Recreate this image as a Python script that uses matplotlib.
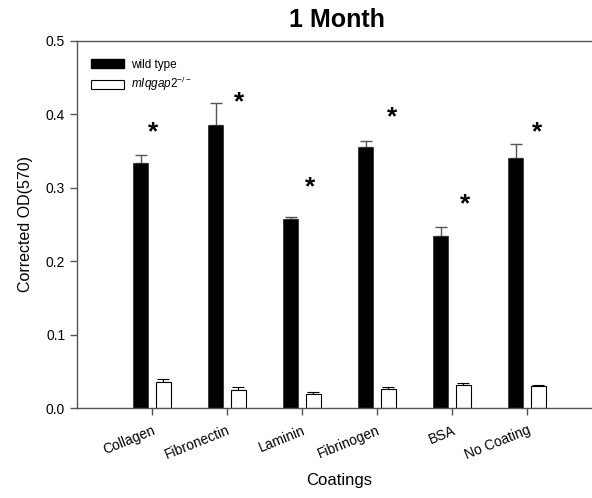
import matplotlib
matplotlib.use("Agg")
import matplotlib.pyplot as plt
from matplotlib.patches import Patch
import numpy as np

plt.rcParams['font.family'] = ['Liberation Sans', 'DejaVu Sans']
plt.rcParams['mathtext.fontset'] = 'custom'
plt.rcParams['mathtext.rm'] = 'Liberation Sans'
plt.rcParams['mathtext.it'] = 'Liberation Sans:italic'

# Adhesion assay, 1 month
coatings = ["Collagen", "Fibronectin", "Laminin", "Fibrinogen", "BSA", "No Coating"]
wt_mean = [0.334, 0.385, 0.257, 0.355, 0.235, 0.340]
wt_err = [0.011, 0.030, 0.003, 0.009, 0.012, 0.019]
ko_mean = [0.035, 0.025, 0.019, 0.026, 0.031, 0.030]
ko_err = [0.005, 0.003, 0.003, 0.002, 0.003, 0.0015]
# significance markers (height in OD units, horizontal nudge from category centre)
sig_y = [0.375, 0.416, 0.300, 0.396, 0.277, 0.375]
sig_dx = [0.01, 0.16, 0.11, 0.20, 0.17, 0.13]

fig = plt.figure(figsize=(5.92, 4.98), dpi=100)
ax = fig.add_axes([77/592, 90/498, 525/592, 367/498])

x = np.arange(len(coatings))
w = 0.195
off = 0.152
axis_col = "#555555"

ax.bar(x - off, wt_mean, w, color="black", edgecolor="#333333", linewidth=0.6, zorder=2)
ax.errorbar(x - off, wt_mean, yerr=[np.zeros(len(x)), wt_err], fmt="none",
            ecolor="#555555", elinewidth=1.0, capsize=4, capthick=1.0, zorder=1)
ax.bar(x + off, ko_mean, w, color="white", edgecolor="black", linewidth=0.8, zorder=2)
ax.errorbar(x + off, ko_mean, yerr=[np.zeros(len(x)), ko_err], fmt="none",
            ecolor="black", elinewidth=0.8, capsize=4, capthick=0.8, zorder=1)

for xi, yi, dx in zip(x, sig_y, sig_dx):
    ax.text(xi + dx, yi, "*", ha="center", va="center", fontsize=19,
            fontweight="bold", color="black")

ax.set_xlim(-1, 6)
ax.set_ylim(0, 0.5)
ax.set_yticks([0.0, 0.1, 0.2, 0.3, 0.4, 0.5])
ax.set_yticklabels(["0.0", "0.1", "0.2", "0.3", "0.4", "0.5"])
ax.set_xticks(x)
ax.set_xticklabels(coatings, rotation=22, ha="right", rotation_mode="anchor")

for s in ["left", "bottom", "top"]:
    ax.spines[s].set_color(axis_col)
    ax.spines[s].set_linewidth(1.0)
ax.spines["right"].set_visible(False)
ax.tick_params(axis="both", direction="out", colors=axis_col, labelcolor="black",
               labelsize=10, length=5, width=1.0)
ax.tick_params(axis="x", pad=6)

ax.set_ylabel("Corrected OD(570)", fontsize=11.5, labelpad=9)
ax.set_xlabel("Coatings", fontsize=12, labelpad=8)
ax.set_title("1 Month", fontsize=18, fontweight="bold", pad=10, x=(337-77)/525)

handles = [Patch(facecolor="black", edgecolor="black"),
           Patch(facecolor="white", edgecolor="black", linewidth=0.8)]
labels = ["wild type", r"$\it{mIqgap2}^{\mathrm{-/-}}$"]
ax.legend(handles, labels, loc="upper left", bbox_to_anchor=(0.0, 0.99),
          frameon=False, fontsize=8.5, handlelength=2.8, handleheight=0.8,
          handletextpad=0.6, labelspacing=0.35, borderaxespad=0.8)

fig.savefig("out.png", dpi=100)
